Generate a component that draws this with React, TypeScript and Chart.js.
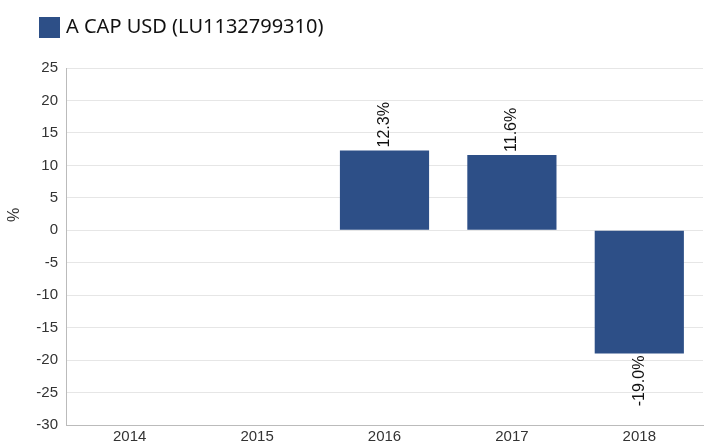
import React, { useEffect, useRef } from "react";
import { Chart, registerables } from "chart.js";

Chart.register(...registerables);

const categories = ["2014", "2015", "2016", "2017", "2018"];
const seriesName = "A CAP USD (LU1132799310)";
const seriesValues: (number | null)[] = [null, null, 12.3, 11.6, -19.0];
const yTicksMin = -30;
const yTicksMax = 25;
const yStep = 5;
const yTitle = "%";

const BAR_COLOR = "#2d4f87";
const TEXT_COLOR = "#333333";
const FONT = "'Liberation Sans', Arial, sans-serif";

const legendPlugin = {
  id: "customLegend",
  afterDraw(chart: any) {
    const ctx = chart.ctx;
    ctx.save();
    ctx.fillStyle = BAR_COLOR;
    ctx.fillRect(39, 17, 21, 21);
    ctx.fillStyle = "#111111";
    ctx.font = "20px 'Noto Sans'";
    ctx.textAlign = "left";
    ctx.textBaseline = "middle";
    ctx.fillText(chart.data.datasets[0].label, 66, 27.5);
    // y axis title
    ctx.fillStyle = TEXT_COLOR;
    ctx.font = "16px " + FONT;
    ctx.translate(15, 215);
    ctx.rotate(-Math.PI / 2);
    ctx.textAlign = "center";
    ctx.fillText(yTitle, 0, 0);
    ctx.restore();
  },
};

const labelPlugin = {
  id: "barLabels",
  afterDatasetsDraw(chart: any) {
    const ctx = chart.ctx;
    const meta = chart.getDatasetMeta(0);
    const data = chart.data.datasets[0].data;
    ctx.save();
    ctx.fillStyle = "#111111";
    ctx.font = "16px " + FONT;
    ctx.textBaseline = "middle";
    meta.data.forEach((bar: any, i: number) => {
      const v = data[i];
      if (v === null || v === undefined) return;
      const text = v.toFixed(1) + "%";
      ctx.save();
      if (v >= 0) {
        ctx.translate(bar.x, bar.y - 3);
        ctx.rotate(-Math.PI / 2);
        ctx.textAlign = "left";
      } else {
        ctx.translate(bar.x, bar.y + 2);
        ctx.rotate(-Math.PI / 2);
        ctx.textAlign = "right";
      }
      ctx.fillText(text, 0, 0);
      ctx.restore();
    });
    ctx.restore();
  },
};

export default function App() {
  const canvasRef = useRef<HTMLCanvasElement | null>(null);

  useEffect(() => {
    if (!canvasRef.current) return;
    const chart = new Chart(canvasRef.current, {
      type: "bar",
      data: {
        labels: categories,
        datasets: [
          {
            label: seriesName,
            data: seriesValues,
            backgroundColor: BAR_COLOR,
            borderWidth: 0,
            barPercentage: 0.7,
            categoryPercentage: 1,
          },
        ],
      },
      options: {
        animation: false,
        responsive: false,
        maintainAspectRatio: false,
        layout: { padding: { top: 68, right: 1, left: 0, bottom: 0 } },
        plugins: {
          legend: { display: false },
          tooltip: { enabled: false },
        },
        scales: {
          x: {
            grid: { display: false, drawTicks: false },
            border: { color: "#bbbbbb", width: 1 },
            ticks: {
              color: TEXT_COLOR,
              font: { family: FONT, size: 15 },
              padding: 3,
            },
            afterFit: (s: any) => {
              s.height = 19;
            },
          },
          y: {
            min: yTicksMin,
            max: yTicksMax,
            grid: { color: "#e6e6e6", drawTicks: false },
            border: { color: "#bbbbbb", width: 1 },
            ticks: {
              stepSize: yStep,
              color: TEXT_COLOR,
              padding: 8,
              font: { family: FONT, size: 15 },
            },
            afterFit: (s: any) => {
              s.width = 66;
            },
          },
        },
      },
      plugins: [legendPlugin, labelPlugin],
    });
    return () => chart.destroy();
  }, []);

  return (
    <div style={{ position: "absolute", left: 0, top: 0, width: 704, height: 444, background: "#fff" }}>
      <canvas ref={canvasRef} width={704} height={444} style={{ display: "block" }} />
    </div>
  );
}
